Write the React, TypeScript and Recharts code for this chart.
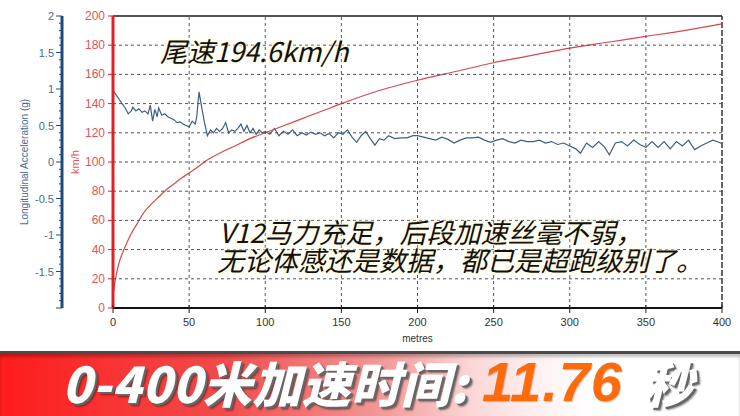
import React from 'react';
import { LineChart, Line, XAxis, YAxis, ReferenceLine, Label } from 'recharts';

// longitudinal acceleration (g) vs distance
const accMetres = [
  0, 2, 4, 6, 8, 10, 12, 13, 15, 17, 19, 21, 23, 24.5, 26, 27.5, 29, 30, 32, 34, 36, 38, 40, 42, 44, 46, 48, 50,
  52, 54, 55, 56.5, 58, 60, 62, 64, 66, 68, 70, 72, 74, 76, 78, 80, 82, 84, 86, 88, 90, 92, 94, 96, 98, 100,
  103, 106, 109, 112, 115, 118, 121, 124, 127, 130, 133, 136, 139, 142, 145, 148, 151, 154, 157, 160, 163, 166,
  169, 172, 175, 178, 181, 185, 189, 193, 197, 200, 204, 208, 212, 216, 220, 224, 228, 232, 236, 240, 244, 248,
  252, 256, 260, 264, 268, 272, 276, 280, 284, 288, 292, 296, 300, 304, 307, 311, 315, 319, 323, 326, 330, 334,
  338, 342, 346, 350, 354, 358, 362, 366, 370, 374, 378, 382, 386, 390, 394, 398, 400,
];
const accG = [
  0.98, 0.92, 0.86, 0.8, 0.74, 0.66, 0.7, 0.75, 0.7, 0.73, 0.68, 0.7, 0.66, 0.78, 0.56, 0.72, 0.62, 0.74, 0.64,
  0.66, 0.62, 0.6, 0.58, 0.54, 0.55, 0.52, 0.5, 0.48, 0.56, 0.52, 0.62, 0.96, 0.78, 0.55, 0.36, 0.44, 0.4, 0.46,
  0.42, 0.46, 0.54, 0.4, 0.44, 0.42, 0.46, 0.52, 0.42, 0.5, 0.4, 0.46, 0.38, 0.44, 0.4, 0.42, 0.38, 0.46, 0.36,
  0.42, 0.38, 0.44, 0.36, 0.4, 0.37, 0.41, 0.38, 0.4, 0.36, 0.39, 0.33, 0.4, 0.38, 0.44, 0.34, 0.27, 0.36, 0.42,
  0.32, 0.23, 0.32, 0.3, 0.36, 0.32, 0.33, 0.33, 0.36, 0.36, 0.34, 0.32, 0.3, 0.34, 0.31, 0.26, 0.3, 0.33, 0.33,
  0.34, 0.3, 0.27, 0.3, 0.32, 0.28, 0.26, 0.3, 0.28, 0.28, 0.3, 0.26, 0.28, 0.24, 0.26, 0.22, 0.18, 0.12, 0.26,
  0.2, 0.28, 0.2, 0.1, 0.26, 0.28, 0.22, 0.3, 0.24, 0.2, 0.28, 0.2, 0.28, 0.18, 0.28, 0.22, 0.3, 0.17, 0.22,
  0.26, 0.3, 0.27, 0.25,
];

// speed (km/h) vs distance
const speedMetres = [0, 1, 2, 4, 6, 8, 12, 16, 20, 25, 30, 35, 40, 45, 50, 55, 60, 70, 80, 90, 100, 120, 140, 150, 175, 200, 225, 250, 275, 300, 325, 350, 375, 400];
const speedKmh = [9, 16, 22, 31, 37, 42, 51, 58, 65, 71, 76, 81, 85, 89, 92.5, 96, 100, 106, 111, 116, 120, 128, 136, 140, 149, 156, 162, 168, 173, 178, 182, 186, 190, 194.6];

const xMajorTicks = [0, 50, 100, 150, 200, 250, 300, 350, 400];
const speedTicks = [0, 20, 40, 60, 80, 100, 120, 140, 160, 180, 200];
const accLabels = [-1.5, -1, -0.5, 0, 0.5, 1, 1.5, 2];

const xMinorTicks: number[] = [];
for (let i = 0; i <= 40; i++) xMinorTicks.push(i * 10);
const accMinorTicks: number[] = [];
for (let i = -20; i <= 20; i++) accMinorTicks.push(i / 10);

const accData = accMetres.map((m, i) => ({ m, g: accG[i] }));
const speedData = speedMetres.map((m, i) => ({ m, v: speedKmh[i] }));

const BLUE = '#1f4a78';
const BLUE_TEXT = '#4a6a92';
const RED = '#e02222';
const RED_TEXT = '#e05555';
const SPD = 0; // speed axis keeps the default id, sits next to the plot
const GRID = '#555';

// layout
const CHART_W = 740;
const CHART_H = 352;
const MARGIN = { top: 16, right: 18, bottom: 0, left: 0 };
const X_AXIS_H = 44;
const SPD_W = 51;
const ACC_W = 62;
const PLOT_W = CHART_W - MARGIN.left - MARGIN.right - SPD_W - ACC_W;
const PLOT_H = CHART_H - MARGIN.top - MARGIN.bottom - X_AXIS_H;

const XTick = (props: any) => {
  const { x, y, payload, grid } = props;
  const v = payload.value;
  const major = xMajorTicks.includes(v);
  return (
    <g>
      {grid && v !== 0 && v !== 400 && (
        <path d={`M${x},${y}V${y - PLOT_H}`} stroke={GRID} strokeWidth={1} strokeDasharray="3 3" fill="none" />
      )}
      <line x1={x} x2={x} y1={y - (major ? 3 : 0)} y2={y + (major ? 5 : 3)} stroke="#222" strokeWidth={1} />
      {grid && (
        <text x={x} y={y + 18} textAnchor="middle" fontSize={11} fill="#333">
          {v}
        </text>
      )}
    </g>
  );
};

const AccTick = (props: any) => {
  const { x, y, payload } = props;
  const v = payload.value;
  const major = accLabels.includes(v) || v === -2;
  return (
    <g>
      <line x1={x - (major ? 6 : 3)} x2={x} y1={y} y2={y} stroke={BLUE} strokeWidth={1} />
      {accLabels.includes(v) && (
        <text x={x - 8} y={y + 4} textAnchor="end" fontSize={11} fill={BLUE_TEXT}>
          {v}
        </text>
      )}
    </g>
  );
};

const SpeedTick = (props: any) => {
  const { x, y, payload } = props;
  const v = payload.value;
  return (
    <g>
      {v !== 0 && v !== 200 && (
        <path d={`M${x},${y}H${x + PLOT_W}`} stroke={GRID} strokeWidth={1} strokeDasharray="3 3" fill="none" />
      )}
      <line x1={x - 5} x2={x} y1={y} y2={y} stroke={RED} strokeWidth={1} />
      <text x={x - 8} y={y + 4} textAnchor="end" fontSize={12} fill={RED_TEXT}>
        {v}
      </text>
    </g>
  );
};

const AxisTitle = ({ viewBox, text, dx, color, size }: any) => {
  const cx = viewBox.x + dx;
  const cy = viewBox.y + viewBox.height / 2;
  return (
    <text x={cx} y={cy} transform={`rotate(-90, ${cx}, ${cy})`} textAnchor="middle" dominantBaseline="middle" fontSize={size} fill={color}>
      {text}
    </text>
  );
};

const note: React.CSSProperties = {
  position: 'absolute',
  fontFamily: '"Noto Sans CJK SC", sans-serif',
  fontStyle: 'italic',
  fontSize: 27,
  lineHeight: '27px',
  color: '#111',
  whiteSpace: 'nowrap',
  textShadow: '0 0 5px #fff6c8, 0 0 3px #fffbe0',
};

const cjkBanner: React.CSSProperties = {
  fontFamily: '"Noto Sans CJK SC", sans-serif',
  fontWeight: 900,
  fontStyle: 'italic',
  fontSize: 49,
  letterSpacing: 0.5,
  whiteSpace: 'nowrap',
  color: '#fff',
  textShadow: '2px 2px 0 #666, 3px 3px 2px rgba(0,0,0,0.45)',
};

export default function App() {
  return (
    <div style={{ position: 'absolute', left: 0, top: 0, width: 740, height: 416, background: '#fff', overflow: 'hidden', fontFamily: 'Arial, "Liberation Sans", sans-serif' }}>
      <LineChart width={CHART_W} height={CHART_H} margin={MARGIN}>
        <XAxis
          dataKey="m"
          type="number"
          domain={[0, 400]}
          ticks={xMajorTicks}
          interval={0}
          tickSize={0}
          tickMargin={0}
          tick={<XTick grid />}
          tickLine={false}
          axisLine={{ stroke: '#111', strokeWidth: 2 }}
          height={X_AXIS_H}
        >
          <Label value="metres" position="insideBottom" offset={10} fontSize={10} fill="#333" />
        </XAxis>
        <XAxis
          xAxisId="minor"
          dataKey="m"
          type="number"
          domain={[0, 400]}
          ticks={xMinorTicks}
          interval={0}
          height={0}
          tickSize={0}
          tickMargin={0}
          tick={<XTick />}
          tickLine={false}
          axisLine={false}
        />
        <YAxis
          yAxisId={SPD}
          type="number"
          domain={[0, 200]}
          ticks={speedTicks}
          interval={0}
          width={SPD_W}
          tickSize={0}
          tickMargin={0}
          tickLine={false}
          tick={<SpeedTick />}
          axisLine={{ stroke: RED, strokeWidth: 3 }}
        >
          <Label content={(p: any) => <AxisTitle {...p} text="km/h" dx={14} color={RED_TEXT} size={11} />} />
        </YAxis>
        <YAxis
          yAxisId="acc"
          type="number"
          domain={[-2, 2]}
          ticks={accMinorTicks}
          interval={0}
          width={ACC_W}
          tickSize={0}
          tickMargin={0}
          tickLine={false}
          tick={<AccTick />}
          axisLine={{ stroke: BLUE, strokeWidth: 3 }}
        >
          <Label content={(p: any) => <AxisTitle {...p} text="Longitudinal Acceleration (g)" dx={25} color={BLUE_TEXT} size={10} />} />
        </YAxis>

        <ReferenceLine yAxisId={SPD} y={200} stroke="#555" strokeWidth={2} />
        <ReferenceLine yAxisId={SPD} x={400} stroke="#333" strokeWidth={1.5} strokeDasharray="6 2" />

        <Line yAxisId="acc" data={accData} dataKey="g" stroke="#3d5f82" strokeWidth={1.2} dot={false} isAnimationActive={false} />
        <Line yAxisId={SPD} data={speedData} dataKey="v" type="monotone" stroke="#d9474a" strokeWidth={1.2} dot={false} isAnimationActive={false} />
      </LineChart>

      <div style={{ ...note, left: 160, top: 37 }}>尾速194.6km/h</div>
      <div style={{ ...note, left: 219, top: 218 }}>V12马力充足，后段加速丝毫不弱，</div>
      <div style={{ ...note, left: 217, top: 246 }}>无论体感还是数据，都已是超跑级别了。</div>

      <div
        style={{
          position: 'absolute',
          left: 0,
          top: 351,
          width: 740,
          height: 65,
          borderTop: '3px solid #4a4a4a',
          boxShadow: 'inset 0 3px 3px rgba(0,0,0,0.25)',
          background: 'linear-gradient(to right, #ff1c1c 0%, #f24a4a 30%, #f49a9a 52%, #fbd8d8 64%, #fff4f4 74%, #ffffff 80%)',
        }}
      >
        <div style={{ ...cjkBanner, position: 'absolute', left: 62, top: 0, lineHeight: '56px' }}>0-400米加速时间:</div>
        <div
          style={{
            position: 'absolute',
            left: 482,
            top: 0,
            lineHeight: '56px',
            fontFamily: '"Liberation Sans", Arial, sans-serif',
            fontWeight: 700,
            fontStyle: 'italic',
            fontSize: 56,
            letterSpacing: 1,
            color: '#ff6a0a',
            whiteSpace: 'nowrap',
            textShadow: '1px 1px 1px rgba(0,0,0,0.2)',
          }}
        >
          11.76
        </div>
        <div style={{ ...cjkBanner, position: 'absolute', left: 644, top: 0, lineHeight: '56px' }}>秒</div>
      </div>
    </div>
  );
}
